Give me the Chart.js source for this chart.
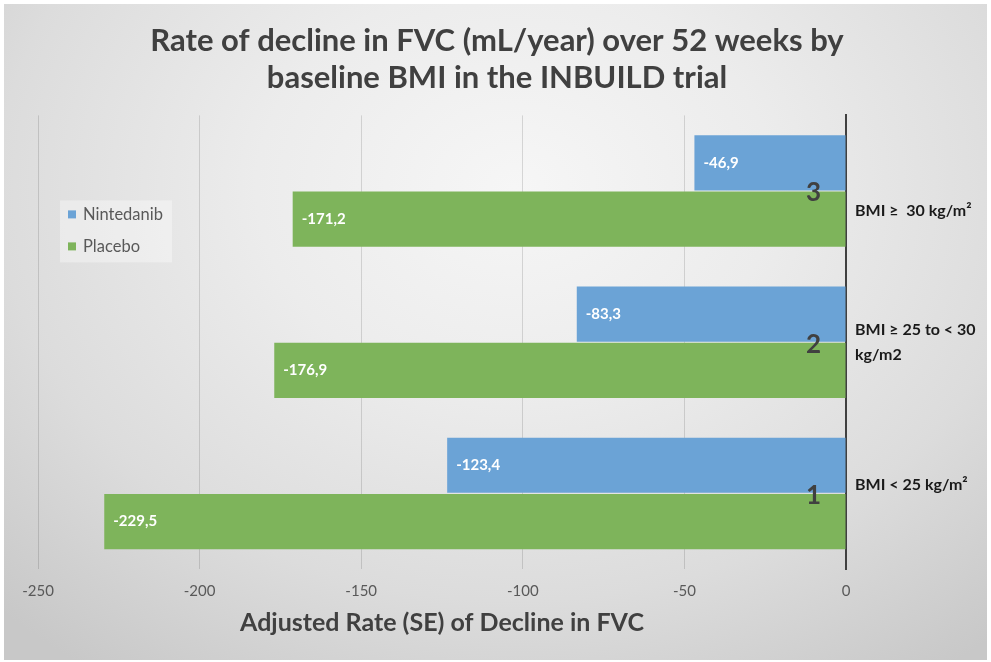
<!DOCTYPE html>
<html>
<head>
<meta charset="utf-8">
<script src="https://cdn.jsdelivr.net/npm/chart.js@4.4.0/dist/chart.umd.min.js"></script>
<style>
  html, body { margin: 0; padding: 0; background: #ffffff; }
  #frame {
    position: absolute; left: 4px; top: 4px; width: 983px; height: 656px;
    background: radial-gradient(ellipse 75% 90% at 52% 28%, #f6f6f6 0%, #ececec 35%, #dcdcdc 70%, #c8c8c8 100%);
  }
  canvas { display: block; }
</style>
</head>
<body>
<div id="frame"><canvas id="c" width="983" height="656"></canvas></div>
<script>
const categories = ['3', '2', '1'];
const groupLabels = [['BMI \u2265  30 kg/m\u00B2'], ['BMI \u2265 25 to < 30', 'kg/m2'], ['BMI < 25 kg/m\u00B2']];
const nintedanib = [-46.9, -83.3, -123.4];
const placebo = [-171.2, -176.9, -229.5];
const xTicks = [-250, -200, -150, -100, -50, 0];
const titleLines = ['Rate of decline in FVC (mL/year) over 52 weeks by', 'baseline BMI in the INBUILD trial'];
const xTitle = 'Adjusted Rate (SE) of Decline in FVC';

const FONT = 'Lato, "Open Sans", sans-serif';
const BLUE = '#6ba3d6';
const GREEN = '#7eb45b';

const overlayPlugin = {
  id: 'overlay',
  afterDatasetsDraw(chart) {
    const ctx = chart.ctx;
    ctx.save();
    ctx.fillStyle = '#ffffff';
    ctx.font = 'bold 15px ' + FONT;
    ctx.textAlign = 'left';
    ctx.textBaseline = 'middle';
    chart.data.datasets.forEach((ds, di) => {
      const meta = chart.getDatasetMeta(di);
      meta.data.forEach((bar, i) => {
        const txt = ds.data[i].toFixed(1).replace('.', ',');
        ctx.fillText(txt, bar.x + 9, bar.y);
      });
    });
    ctx.restore();
  },
  afterDraw(chart) {
    const ctx = chart.ctx;
    const area = chart.chartArea;
    const y = chart.scales.y;
    // category numbers inside the plot, left of the axis
    ctx.save();
    ctx.fillStyle = '#404040';
    ctx.font = 'bold 26px ' + FONT;
    ctx.textAlign = 'right';
    ctx.textBaseline = 'middle';
    chart.data.labels.forEach((lab, i) => {
      ctx.fillText(lab, area.right - 25, y.getPixelForValue(i) + 2);
    });
    ctx.restore();
    // group labels to the right of the axis
    ctx.save();
    ctx.fillStyle = '#1a1a1a';
    ctx.font = 'bold 16px ' + FONT;
    ctx.textAlign = 'left';
    ctx.textBaseline = 'middle';
    const offsets = [20, 0, -9];
    groupLabels.forEach((lines, i) => {
      const cy = y.getPixelForValue(i) + offsets[i];
      const lh = 25;
      const start = cy - (lines.length - 1) * lh / 2;
      lines.forEach((ln, k) => ctx.fillText(ln, area.right + 9, start + k * lh));
    });
    ctx.restore();
    // x axis title
    ctx.save();
    ctx.fillStyle = '#404040';
    ctx.font = 'bold 25px ' + FONT;
    ctx.textAlign = 'center';
    ctx.textBaseline = 'middle';
    ctx.fillText(xTitle, (area.left + area.right) / 2, area.bottom + 54);
    ctx.restore();
    // legend box
    ctx.save();
    const lx = area.left + 22, ly = area.top + 85;
    ctx.fillStyle = 'rgba(255,255,255,0.35)';
    ctx.fillRect(lx, ly, 112, 62);
    ctx.font = '16.5px ' + FONT;
    ctx.textBaseline = 'middle';
    ctx.textAlign = 'left';
    chart.data.datasets.forEach((ds, i) => {
      const yy = ly + 14 + i * 32;
      ctx.fillStyle = ds.backgroundColor;
      ctx.fillRect(lx + 8, yy - 4, 8, 8);
      ctx.fillStyle = '#595959';
      ctx.fillText(ds.label, lx + 23, yy);
    });
    ctx.restore();
  }
};

new Chart(document.getElementById('c'), {
  type: 'bar',
  data: {
    labels: categories,
    datasets: [
      { label: 'Nintedanib', data: nintedanib, backgroundColor: BLUE, categoryPercentage: 0.745, barPercentage: 0.98 },
      { label: 'Placebo', data: placebo, backgroundColor: GREEN, categoryPercentage: 0.745, barPercentage: 0.98 }
    ]
  },
  options: {
    indexAxis: 'y',
    responsive: false,
    animation: false,
    devicePixelRatio: 1,
    layout: { padding: { left: 34, right: 31, top: 0, bottom: 47 } },
    plugins: {
      legend: { display: false },
      tooltip: { enabled: false },
      title: {
        display: true,
        text: titleLines,
        color: '#404040',
        font: { family: FONT, size: 31, weight: 'bold', lineHeight: 1.2 },
        padding: { top: 18, bottom: 19 }
      }
    },
    scales: {
      x: {
        type: 'linear',
        min: -250, max: 0,
        afterBuildTicks(scale) { scale.ticks = xTicks.map(v => ({ value: v })); },
        grid: { color: 'rgba(0,0,0,0.13)', lineWidth: 1, drawTicks: false },
        border: { display: false },
        z: 1,
        ticks: {
          color: '#595959',
          font: { family: FONT, size: 15 },
          padding: 13,
          callback: v => String(v)
        }
      },
      y: {
        type: 'category',
        position: 'right',
        afterFit(scale) { scale.width = 110; },
        grid: { display: false, drawTicks: false },
        border: { display: true, color: '#404040', width: 2 },
        ticks: { display: false }
      }
    }
  },
  plugins: [overlayPlugin]
});
</script>
</body>
</html>
